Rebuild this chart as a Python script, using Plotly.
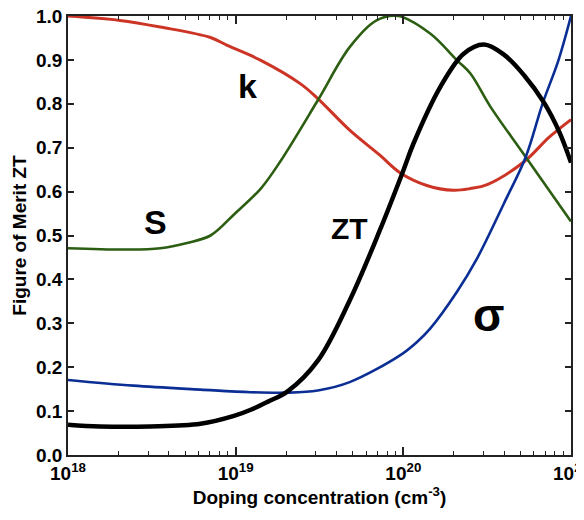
import plotly.graph_objects as go

# doping concentration, as log10(n / cm^-3)
k_logn = [18.0, 18.31, 18.55, 18.85, 18.95, 19.15, 19.385, 19.49, 19.68, 19.86,
          19.98, 20.14, 20.30, 20.40, 20.50, 20.72, 20.87, 21.0]
k_val = [1.0, 0.99, 0.975, 0.951, 0.933, 0.899, 0.846, 0.812, 0.740, 0.683,
         0.643, 0.614, 0.603, 0.607, 0.616, 0.668, 0.724, 0.764]

s_logn = [18.0, 18.35, 18.55, 18.71, 18.85, 18.99, 19.15, 19.27, 19.49, 19.68,
          19.84, 19.97, 20.16, 20.32, 20.40, 20.52, 20.73, 21.0]
s_val = [0.471, 0.468, 0.471, 0.483, 0.500, 0.548, 0.607, 0.671, 0.808, 0.929,
         0.990, 1.0, 0.96, 0.899, 0.869, 0.793, 0.679, 0.532]

zt_logn = [18.0, 18.19, 18.49, 18.79, 18.99, 19.09, 19.19, 19.31, 19.49, 19.68,
           19.86, 20.0, 20.06, 20.22, 20.36, 20.48, 20.60, 20.72, 20.84, 20.93, 21.0]
zt_val = [0.069, 0.065, 0.065, 0.071, 0.089, 0.103, 0.121, 0.145, 0.215, 0.352,
          0.512, 0.648, 0.709, 0.838, 0.914, 0.935, 0.912, 0.865, 0.802, 0.736, 0.666]

sig_logn = [18.0, 18.39, 18.79, 19.09, 19.31, 19.49, 19.68, 19.98, 20.08, 20.16,
            20.32, 20.44, 20.60, 20.73, 20.83, 20.925, 21.0]
sig_val = [0.171, 0.158, 0.149, 0.143, 0.142, 0.147, 0.166, 0.227, 0.257, 0.288,
           0.372, 0.448, 0.573, 0.679, 0.800, 0.899, 1.0]

# curve labels: text, log10(n), value, font size
labels = [("k", 19.07, 0.84, 34), ("S", 18.52, 0.53, 34),
          ("ZT", 19.68, 0.515, 30), ("σ", 20.51, 0.32, 46)]

x_tickvals = [1e18, 1e19, 1e20, 1e21]
x_ticktext = ["10<sup>18</sup>", "10<sup>19</sup>", "10<sup>20</sup>", "10<sup>21</sup>"]
y_tickvals = [0.0, 0.1, 0.2, 0.3, 0.4, 0.5, 0.6, 0.7, 0.8, 0.9, 1.0]

FONT = "Liberation Sans"

def to_n(logs):
    return [10 ** v for v in logs]

def curve(logs, vals, color, width):
    return go.Scatter(x=to_n(logs), y=vals, mode="lines",
                      line=dict(color=color, width=width, shape="spline", smoothing=1.0))

fig = go.Figure()
fig.add_trace(curve(k_logn, k_val, "#cc3526", 3))
fig.add_trace(curve(s_logn, s_val, "#2c5e12", 2.6))
fig.add_trace(curve(sig_logn, sig_val, "#0b2e94", 2.6))
fig.add_trace(curve(zt_logn, zt_val, "black", 4.5))

for text, lx, ly, size in labels:
    fig.add_annotation(x=lx, y=ly, text=text, showarrow=False,
                       font=dict(family=FONT, size=size, color="black", weight="bold"))

fig.update_xaxes(type="log", range=[18, 21], tickvals=x_tickvals, ticktext=x_ticktext,
                 ticks="inside", ticklen=8, tickwidth=1.5, tickcolor="#222",
                 minor=dict(ticks="inside", ticklen=4, tickwidth=1, tickcolor="#222",
                            dtick="D1", showgrid=False),
                 showline=True, linecolor="#222", linewidth=1.8, mirror="ticks",
                 showgrid=False, zeroline=False, automargin=False,
                 ticklabeloverflow="allow",
                 tickfont=dict(family=FONT, size=19, color="black", weight="bold"),
                 title=dict(text="Doping concentration (cm<sup>-3</sup>)", standoff=8,
                            font=dict(family=FONT, size=19, color="black", weight="bold")))
fig.update_yaxes(range=[0, 1.0], tickvals=y_tickvals, tickformat=".1f",
                 ticks="inside", ticklen=6, tickwidth=1.5, tickcolor="#222",
                 showline=True, linecolor="#222", linewidth=1.8, mirror="ticks",
                 showgrid=False, zeroline=False, automargin=False,
                 ticklabeloverflow="allow",
                 tickfont=dict(family=FONT, size=19, color="black", weight="bold"),
                 title=dict(text="Figure of Merit ZT", standoff=4,
                            font=dict(family=FONT, size=19, color="black", weight="bold")))

# the page body keeps an 8px margin, so the figure is sized to fill the rest of the window
fig.update_layout(width=576, height=512, showlegend=False,
                  margin=dict(l=60, r=13, t=8, b=65),
                  plot_bgcolor="white", paper_bgcolor="white")

fig.write_html("out.html")
